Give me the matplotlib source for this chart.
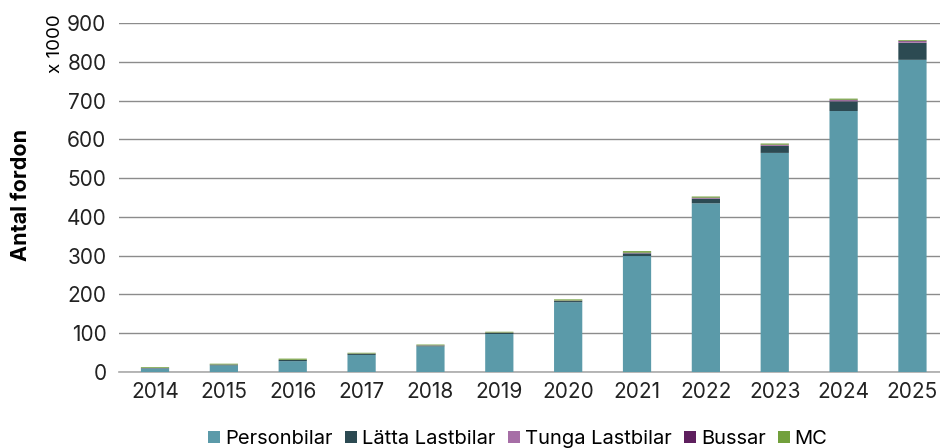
import matplotlib.pyplot as plt
import numpy as np

plt.rcParams['font.family'] = ['Inter', 'DejaVu Sans']

years = [2014, 2015, 2016, 2017, 2018, 2019, 2020, 2021, 2022, 2023, 2024, 2025]
# thousands of vehicles
personbilar = [9, 17, 28, 44, 66, 98, 180, 299, 435, 565, 673, 805]
latta_lastbilar = [1, 2, 3, 3, 2, 3, 3, 7, 12, 18, 25, 44]
tunga_lastbilar = [0.2, 0.3, 0.3, 0.4, 0.5, 0.5, 0.8, 1.0, 1.5, 2.0, 2.5, 3.0]
bussar = [0.1, 0.1, 0.2, 0.2, 0.3, 0.3, 0.5, 0.7, 1.0, 1.2, 1.5, 2.0]
mc = [2, 2, 3, 2, 2, 2, 3, 4, 3, 3, 3, 2]

series = [
    ('Personbilar', personbilar, '#5b9aa9'),
    ('Lätta Lastbilar', latta_lastbilar, '#2c4a52'),
    ('Tunga Lastbilar', tunga_lastbilar, '#a66ea6'),
    ('Bussar', bussar, '#5e1f5e'),
    ('MC', mc, '#72a03c'),
]

fig = plt.figure(figsize=(9.4, 4.48), dpi=100)
ax = fig.add_axes([119 / 940, 1 - 372 / 448, 1 - 119 / 940, (372 - 23) / 448])

x = np.arange(len(years))
bottom = np.zeros(len(years))
for name, vals, color in series:
    bars = ax.bar(x, vals, width=0.41, bottom=bottom, color=color, label=name,
                  linewidth=0, zorder=3)
    for b in bars:
        b.set_snap(False)
    bottom += np.array(vals)

ax.set_xlim(-0.523, 11.40)
ax.set_ylim(0, 900)
ax.set_yticks(range(0, 901, 100))
ax.set_xticks(x)
ax.set_xticklabels([str(y) for y in years])
ax.tick_params(axis='both', labelsize=15, length=0, colors='#222222')
ax.tick_params(axis='y', pad=9)
ax.tick_params(axis='x', pad=7)
ax.yaxis.grid(True, color='#8c8c8c', linewidth=1, zorder=0)
for s in ['top', 'right', 'left']:
    ax.spines[s].set_visible(False)
ax.spines['bottom'].set_color('#aaaaaa')
ax.spines['bottom'].set_linewidth(1.2)

fig.text(21 / 940, 1 - 195 / 448, 'Antal fordon', rotation=90, fontsize=15.5,
         fontweight='bold', ha='center', va='center')
fig.text(56 / 940, 1 - 44 / 448, 'x 1000', rotation=90, fontsize=13.5,
         ha='center', va='center')

fig.legend(loc='center', bbox_to_anchor=(518 / 940, 1 - 439 / 448), ncol=5,
           frameon=False, fontsize=14.5, handlelength=0.6, handleheight=0.6,
           handletextpad=0.25, columnspacing=0.6)

fig.savefig('out.png', dpi=100)
